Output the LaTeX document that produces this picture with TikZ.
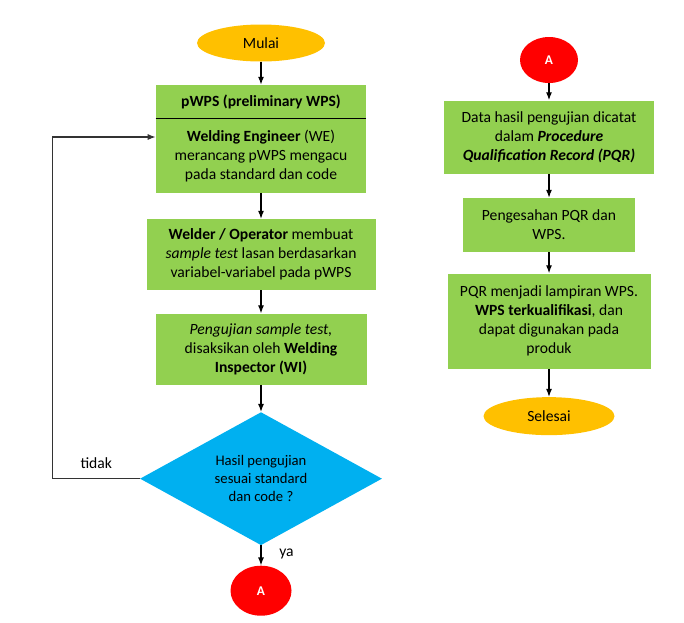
\documentclass[tikz,border=0pt]{standalone}
\usepackage{fontspec}
\setmainfont{Carlito}
\usetikzlibrary{arrows.meta}
\usetikzlibrary{shapes, positioning}

\definecolor{boxgreen}{HTML}{92D050}
\definecolor{termorange}{HTML}{FFC000}
\definecolor{decblue}{HTML}{00B0F0}
\definecolor{conred}{HTML}{FF0000}

\begin{document}
\begin{tikzpicture}[x=0.75pt, y=-0.75pt,
    font=\fontsize{11.7}{14.25}\selectfont,
    proc/.style={rectangle, fill=boxgreen, align=center, inner sep=0pt},
    term/.style={ellipse, fill=termorange, inner sep=0pt},
    decision/.style={diamond, fill=decblue, aspect=1.8, inner sep=0pt, align=center,
        minimum width=181.5pt, minimum height=99.75pt, font=\fontsize{11}{13.5}\selectfont},
    conn/.style={ellipse, fill=conred, text=white, inner sep=0pt, font=\fontsize{10}{12}\selectfont\bfseries},
    arr/.style={-{Latex[length=6pt, width=4.5pt]}, line width=0.9pt}]

    \useasboundingbox (0,0) rectangle (684,622);

    % Kolom kiri
    \node[term, minimum width=96pt, minimum height=27.75pt] (mulai) at (261,43) {Mulai};
    \node[proc, minimum width=157.5pt, minimum height=24.75pt, below=17.25pt of mulai,
        font=\fontsize{11.7}{14.25}\selectfont\bfseries] (pwps) {pWPS (preliminary WPS)};
    \node[proc, minimum width=157.5pt, minimum height=55.5pt, below=0pt of pwps] (we)
        {\textbf{Welding Engineer} (WE)\\ merancang pWPS mengacu\\ pada standard dan code};
    \node[proc, minimum width=171.75pt, minimum height=53.25pt, below=19.5pt of we] (welder)
        {\textbf{Welder / Operator} membuat\\ \textit{sample test} lasan berdasarkan\\ variabel-variabel pada pWPS};
    \node[proc, minimum width=158.25pt, minimum height=53.25pt, below=17.25pt of welder] (uji)
        {\textit{Pengujian sample test,}\\ disaksikan oleh \textbf{Welding}\\ \textbf{Inspector (WI)}};
    \node[decision, below=20.25pt of uji] (hasil) {Hasil pengujian\\ sesuai standard\\ dan code ?};
    \node[conn, minimum width=45.75pt, minimum height=37.5pt, below=15pt of hasil] (a1) {A};

    % Kolom kanan
    \node[conn, minimum width=43.5pt, minimum height=34.5pt] (a2) at (549,60) {A};
    \node[proc, minimum width=157.5pt, minimum height=54.75pt, below=12.75pt of a2] (pqr)
        {Data hasil pengujian dicatat\\ dalam \textbf{\textit{Procedure}}\\ \textbf{\textit{Qualification Record (PQR)}}};
    \node[proc, minimum width=129pt, minimum height=40.5pt, below=18pt of pqr] (sah)
        {Pengesahan PQR dan\\ WPS.};
    \node[proc, minimum width=152.25pt, minimum height=71.25pt, below=15.75pt of sah] (lampiran)
        {PQR menjadi lampiran WPS.\\ \textbf{WPS terkualifikasi}, dan\\ dapat digunakan pada\\ produk};
    \node[term, minimum width=98.25pt, minimum height=28.5pt, below=21pt of lampiran] (selesai) {Selesai};

    % Garis pemisah
    \draw[line width=0.9pt] (pwps.south west) -- (pwps.south east);

    % Panah
    \draw[arr] (mulai) -- (pwps);
    \draw[arr] (we) -- (welder);
    \draw[arr] (welder) -- (uji);
    \draw[arr] (uji) -- (hasil);
    \draw[arr] (hasil) -- node[right=10pt, pos=0.45] {ya} (a1);
    \draw[arr, black!80] (hasil.west) -- node[above=4pt, pos=0.5, text=black] {tidak} ++(-87,0) |- (we.170);

    \draw[arr] (a2) -- (pqr);
    \draw[arr] (pqr) -- (sah);
    \draw[arr] (sah) -- (lampiran);
    \draw[arr] (lampiran) -- (selesai);
\end{tikzpicture}
\end{document}
